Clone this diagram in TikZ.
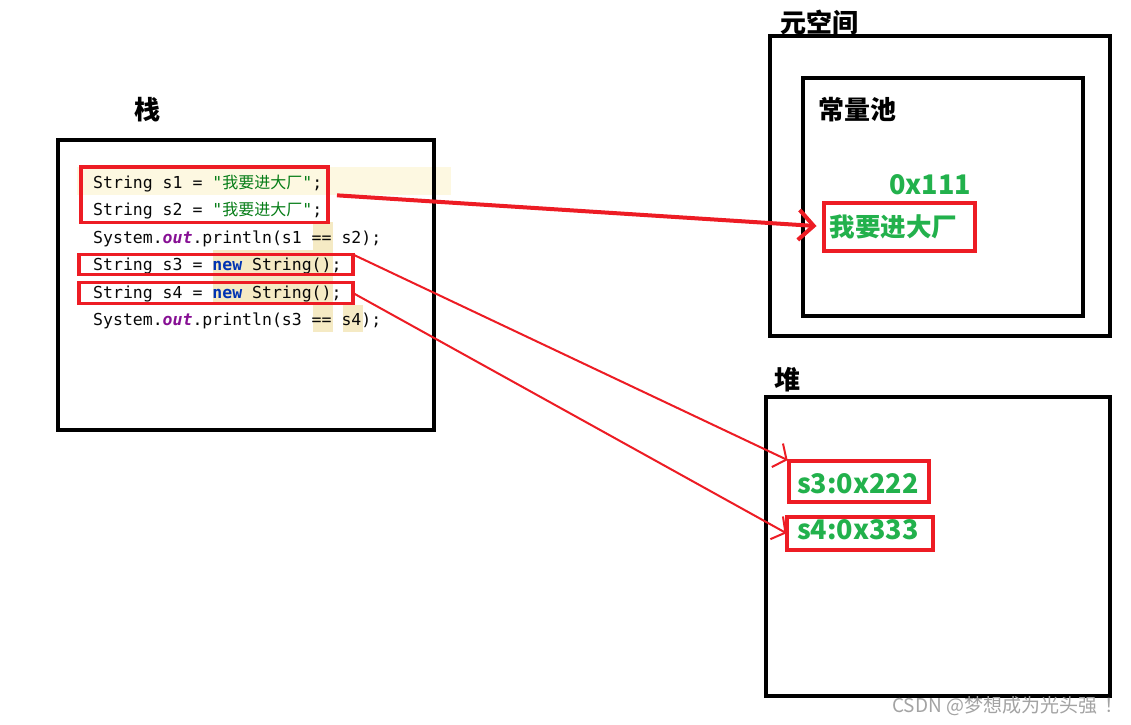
\documentclass[tikz,border=0pt]{standalone}
\usepackage{fontspec}
\usetikzlibrary{arrows.meta}
\newfontfamily\cjk{Noto Sans CJK SC}
\newfontfamily\codefont{DejaVu Sans Mono}
\definecolor{pred}{HTML}{ED1C24}
\definecolor{pgreen}{HTML}{22B14C}
\definecolor{strgreen}{HTML}{067D17}
\definecolor{newblue}{HTML}{0033B3}
\definecolor{outpurple}{HTML}{871094}
\definecolor{codeblack}{HTML}{080808}
\definecolor{linehl}{HTML}{FDF8E1}
\definecolor{tanhl}{HTML}{F5EAC4}
\definecolor{wmgray}{HTML}{A3A3A3}
\begin{document}
\begin{tikzpicture}[x=1pt,y=-1pt,
  blackbox/.style={draw=black, line width=4pt, inner sep=0pt, outer sep=0pt},
  redbox/.style={draw=pred, line width=4pt, inner sep=0pt, outer sep=0pt},
  codebox/.style={draw=pred, line width=3.5pt, inner sep=0pt, outer sep=0pt},
  codeline/.style={anchor=base west, inner sep=0pt, text=codeblack, font=\codefont\fontsize{16.5}{20}\selectfont},
  title/.style={inner sep=0pt, text=black, font=\cjk\bfseries\fontsize{26}{30}\selectfont},
  greenlabel/.style={inner sep=0pt, text=pgreen, font=\cjk\bfseries\fontsize{27}{32}\selectfont},
  thickarrow/.style={draw=pred, line width=4pt, -{Straight Barb[length=15pt,width=30pt]}},
  thinarrow/.style={draw=pred, line width=2pt, -{Straight Barb[length=10pt,width=26pt]}}
]
\useasboundingbox[fill=white] (0,0) rectangle (1131,724);

% code highlights
\fill[linehl] (77,167) rectangle (451,195);
\fill[tanhl] (313,222) rectangle (333,250);
\fill[tanhl] (213,250) rectangle (333,304);
\fill[tanhl] (313,305) rectangle (333,332);
\fill[tanhl] (343,305) rectangle (363,332);

% code lines
\node[codeline] (c1) at (93,188) {String s1 = \textcolor{strgreen}{"{\cjk\fontsize{16}{20}\selectfont 我要进大厂}"};};
\node[codeline] (c2) at (93,215.5) {String s2 = \textcolor{strgreen}{"{\cjk\fontsize{16}{20}\selectfont 我要进大厂}"};};
\node[codeline] (c3) at (93,243) {System.\textcolor{outpurple}{\bfseries\itshape out}.println(s1 == s2);};
\node[codeline] (c4) at (93,270.5) {String s3 = \textcolor{newblue}{\bfseries new} String();};
\node[codeline] (c5) at (93,298) {String s4 = \textcolor{newblue}{\bfseries new} String();};
\node[codeline] (c6) at (93,325.5) {System.\textcolor{outpurple}{\bfseries\itshape out}.println(s3 == s4);};

% black frames
\node[blackbox, minimum width=376pt, minimum height=290.5pt] (stack) at (246,284.75) {};
\node[blackbox, minimum width=340.5pt, minimum height=300pt] (meta) at (939.75,185.5) {};
\node[blackbox, minimum width=280pt, minimum height=238pt] (pool) at (942.5,196.5) {};
\node[blackbox, minimum width=343.5pt, minimum height=299pt] (heap) at (937.75,546) {};

% titles
\node[title] (tstack) at (147,110) {栈};
\node[title] (tmeta) at (819,22) {元空间};
\node[title] (tpool) at (857.5,110) {常量池};
\node[title] (theap) at (787.5,380) {堆};

% red code boxes
\node[codebox, minimum width=247pt, minimum height=55.5pt] (b12) at (204.5,194.75) {};
\node[codebox, minimum width=274pt, minimum height=20pt] (b3) at (216,264.5) {};
\node[codebox, minimum width=274pt, minimum height=21pt] (b4) at (216,293) {};

% pool content
\node[greenlabel] (addr1) at (930,185) {0x111};
\node[redbox, minimum width=151pt, minimum height=48pt] (poolbox) at (899,226.5) {};
\node[inner sep=0pt, text=pgreen, font=\cjk\bfseries\fontsize{25.5}{30}\selectfont] (pooltext) at (893.5,227) {我要进大厂};

% heap content
\node[redbox, minimum width=140pt, minimum height=41.5pt] (h3) at (858.5,481.25) {};
\node[greenlabel] (h3t) at (858,484) {s3:0x222};
\node[redbox, minimum width=146pt, minimum height=32.5pt] (h4) at (859.5,533.25) {};
\node[greenlabel] (h4t) at (858,530) {s4:0x333};

% arrows
\draw[thickarrow, shorten <=9pt, shorten >=7pt] (b12.east) -- (poolbox.west);
\draw[thinarrow, shorten >=1pt] (b3.north east) -- (h3.north west);
\draw[thinarrow] (b4.east) -- (h4.west);

% watermark
\node[inner sep=0pt, text=wmgray, font=\cjk\fontsize{19}{22}\selectfont, anchor=west] (wm) at (892,706) {CSDN @梦想成为光头强\hspace{7pt}！};
\end{tikzpicture}
\end{document}
